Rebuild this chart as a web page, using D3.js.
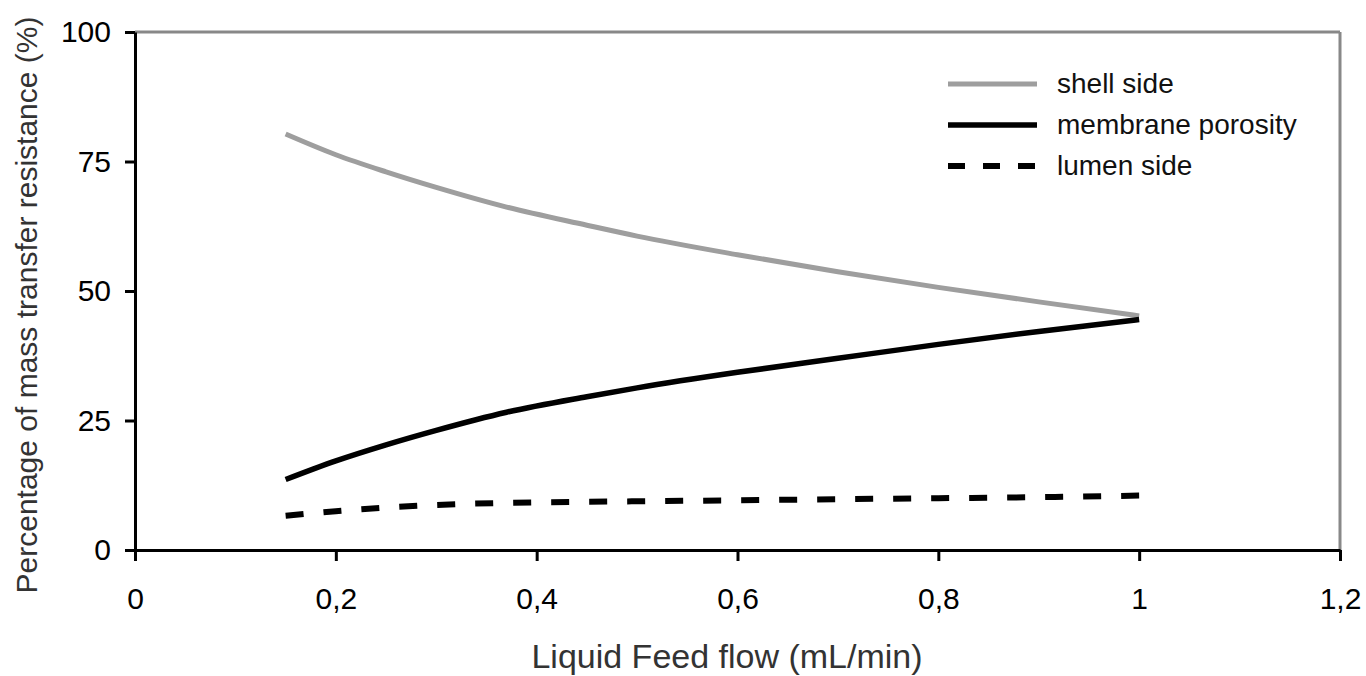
<!DOCTYPE html>
<html>
<head>
<meta charset="utf-8">
<script src="https://cdn.jsdelivr.net/npm/d3@7"></script>
<style>
  body { margin: 0; background: #fff; }
  text { font-family: "Liberation Sans", Arial, sans-serif; }
</style>
</head>
<body>
<script>
/* Feed flow (mL/min) and resistance shares (%) */
var flow = [0.15, 0.2, 0.25, 0.3, 0.37, 0.45, 0.5, 0.6, 0.7, 0.8, 0.9, 1.0];
var shellSide = [80.3, 76.3, 73.0, 70.0, 66.2, 62.7, 60.6, 57.0, 53.7, 50.7, 47.9, 45.2];
var membranePorosity = [13.6, 17.2, 20.3, 23.1, 26.6, 29.6, 31.3, 34.3, 37.0, 39.7, 42.2, 44.5];
var lumenSide = [6.6, 7.5, 8.2, 8.7, 9.1, 9.3, 9.4, 9.6, 9.8, 10.0, 10.2, 10.5];
var seriesNames = ["shell side", "membrane porosity", "lumen side"];
var xTicks = [0, 0.2, 0.4, 0.6, 0.8, 1.0, 1.2];
var yTicks = [0, 25, 50, 75, 100];

var width = 1366,
    height = 676;
var plotLeft = 135, plotRight = 1340, plotTop = 32, plotBottom = 550;

var svg = d3.select("body").append("svg")
    .attr("width", width)
    .attr("height", height);

var x = d3.scaleLinear().domain([0, 1.2]).range([plotLeft, plotRight]);
var y = d3.scaleLinear().domain([0, 100]).range([plotBottom, plotTop]);

var fmt = function(d) { return String(d).replace(".", ","); };

// frame: grey top and right
svg.append("line")
    .attr("x1", plotLeft).attr("x2", plotRight)
    .attr("y1", plotTop).attr("y2", plotTop)
    .attr("stroke", "#888").attr("stroke-width", 3);
svg.append("line")
    .attr("x1", plotRight).attr("x2", plotRight)
    .attr("y1", plotTop).attr("y2", plotBottom)
    .attr("stroke", "#888").attr("stroke-width", 3);

var xAxis = d3.axisBottom(x)
    .tickValues(xTicks)
    .tickFormat(fmt)
    .tickSize(11)
    .tickSizeOuter(0)
    .tickPadding(27);

var yAxis = d3.axisLeft(y)
    .tickValues(yTicks)
    .tickSize(10)
    .tickSizeOuter(0)
    .tickPadding(14);

var gx = svg.append("g")
    .attr("transform", "translate(0," + plotBottom + ")")
    .call(xAxis);
var gy = svg.append("g")
    .attr("transform", "translate(" + plotLeft + ",0)")
    .call(yAxis);

[gx, gy].forEach(function(g) {
  g.select(".domain").attr("stroke", "#000").attr("stroke-width", 3);
  g.selectAll(".tick line").attr("stroke", "#000").attr("stroke-width", 3);
  g.selectAll(".tick text")
    .attr("fill", "#000")
    .style("font-size", "30px")
    .style("font-family", "'Liberation Sans', Arial, sans-serif");
});
gx.selectAll(".tick text").attr("dy", "0.71em");

// series
var line = d3.line()
    .curve(d3.curveMonotoneX)
    .x(function(d) { return x(d[0]); })
    .y(function(d) { return y(d[1]); });

var series = [
  { name: seriesNames[0], values: shellSide, color: "#9e9e9e", width: 5, dash: null },
  { name: seriesNames[1], values: membranePorosity, color: "#000", width: 5.5, dash: null },
  { name: seriesNames[2], values: lumenSide, color: "#000", width: 6, dash: "18,20" }
];

series.forEach(function(s) {
  svg.append("path")
      .datum(flow.map(function(f, i) { return [f, s.values[i]]; }))
      .attr("d", line)
      .attr("fill", "none")
      .attr("stroke", s.color)
      .attr("stroke-width", s.width)
      .attr("stroke-dasharray", s.dash);
});

// legend
var legend = svg.append("g").attr("transform", "translate(948,84)");
series.forEach(function(s, i) {
  var row = legend.append("g").attr("transform", "translate(0," + (i * 41) + ")");
  row.append("line")
      .attr("x1", 0).attr("x2", 89)
      .attr("stroke", s.color)
      .attr("stroke-width", s.width)
      .attr("stroke-dasharray", s.dash ? "17,18" : null);
  row.append("text")
      .attr("x", 109)
      .attr("y", 9)
      .style("font-size", "28px")
      .attr("fill", "#111")
      .text(s.name);
});

// axis titles
svg.append("text")
    .attr("x", 727)
    .attr("y", 668)
    .attr("text-anchor", "middle")
    .style("font-size", "34px")
    .attr("fill", "#333")
    .text("Liquid Feed flow (mL/min)");

svg.append("text")
    .attr("transform", "translate(37,305) rotate(-90)")
    .attr("text-anchor", "middle")
    .style("font-size", "30px")
    .attr("fill", "#333")
    .text("Percentage of mass transfer resistance (%)");
</script>
</body>
</html>
